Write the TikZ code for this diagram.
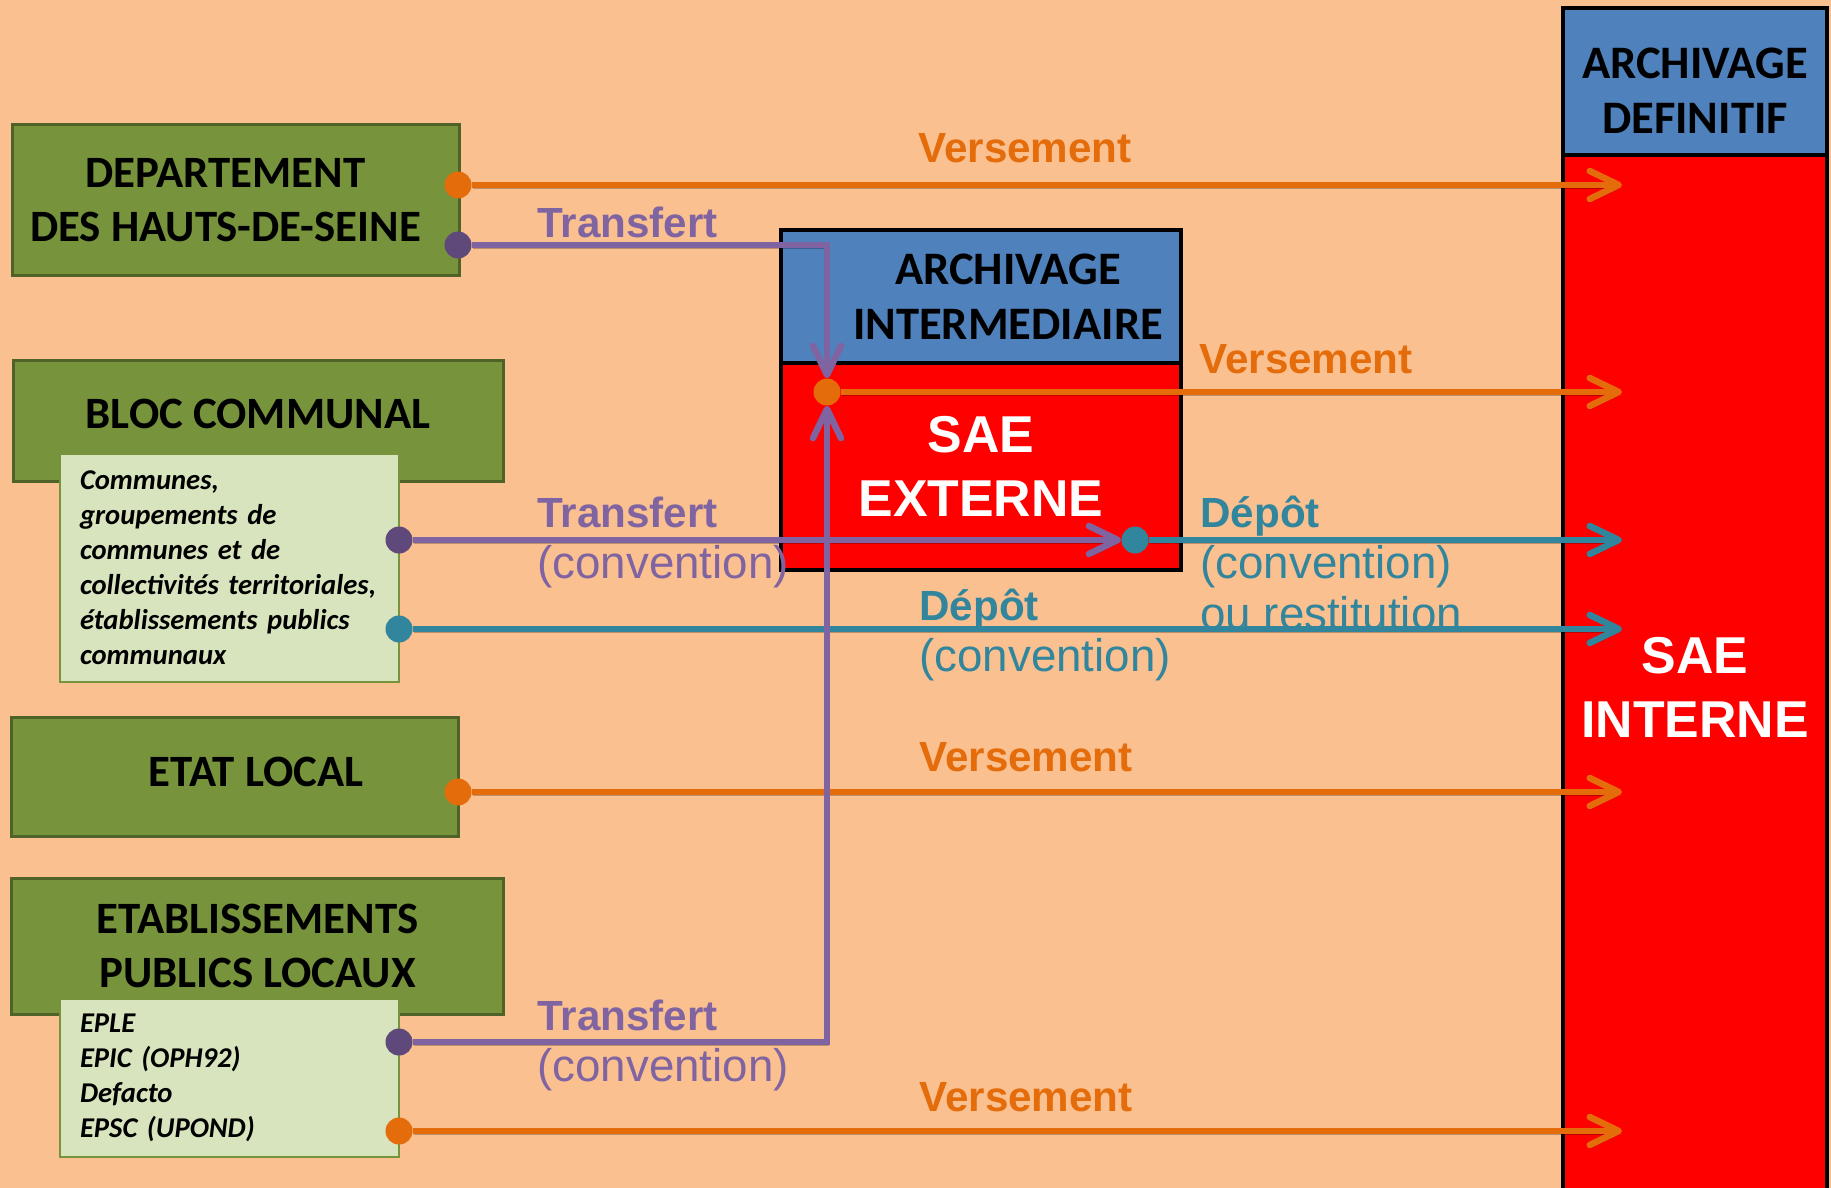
\documentclass[tikz,border=0pt]{standalone}
\usepackage{fontspec}
\setmainfont{Carlito}
\newfontfamily\arialfont{Liberation Sans}
\usepackage{xcolor}
\usetikzlibrary{arrows.meta, positioning}

\definecolor{fond}{HTML}{FAC090}
\definecolor{vert}{HTML}{77933C}
\definecolor{vertfonce}{HTML}{4F6228}
\definecolor{vertclair}{HTML}{D7E4BD}
\definecolor{bleu}{HTML}{4F81BD}
\definecolor{orangel}{HTML}{E46C0A}
\definecolor{violet}{HTML}{8064A2}
\definecolor{violetfonce}{HTML}{5F497A}
\definecolor{bleucanard}{HTML}{31859C}

\begin{document}
\begin{tikzpicture}[
    every node/.style={align=center},
    greentext/.style={font=\bfseries\fontsize{25.5}{30.5}\selectfont},
    headtext/.style={font=\bfseries\fontsize{26.5}{31.5}\selectfont},
    greenbox/.style={draw=vertfonce, line width=0.6mm, fill=vert, greentext},
    listbox/.style={draw=vert, line width=0.3mm, fill=vertclair, text width=5.98cm, align=left, inner xsep=0.4cm, font=\fontsize{16.3}{19.9}\selectfont\bfseries\itshape},
    headbox/.style={draw=black, line width=0.7mm, fill=bleu},
    saebox/.style={draw=black, line width=0.7mm, fill=red, text=white, font=\arialfont\bfseries\fontsize{29.5}{36}\selectfont},
    pastille/.style={circle, inner sep=0pt, minimum size=0.54cm},
    flux/.style={line width=0.13cm, preaction={draw=black, opacity=0.25, transform canvas={shift={(0.02,-0.06)}}}},
    fleche/.style={-{Straight Barb[length=0.58cm, width=0.56cm, round]}},
    lbl/.style={anchor=base west, inner sep=0pt, align=left, font=\arialfont\fontsize{26}{28.9}\selectfont},
    lblb/.style={lbl, font=\arialfont\bfseries\fontsize{24}{28.9}\selectfont}
]

% fond
\fill[fond] (0,0) rectangle (36.62,-23.76);
\useasboundingbox (0,0) rectangle (36.62,-23.76);

% archivage definitif
\node[headbox, minimum width=5.28cm, minimum height=2.94cm,
      label={[yshift=-0.18cm, headtext]center:{ARCHIVAGE\\DEFINITIF}}] (defHead) at (33.90,-1.63) {};
\node[saebox, minimum width=5.28cm, minimum height=21.3cm, below=-0.7mm of defHead] (defSae) {SAE\\INTERNE};

% archivage intermediaire
\node[headbox, minimum width=8.0cm, minimum height=2.66cm,
      label={[xshift=0.54cm, headtext]center:{ARCHIVAGE\\INTERMEDIAIRE}}] (interHead) at (19.62,-5.93) {};
\node[saebox, minimum width=8.0cm, minimum height=4.14cm, below=-0.7mm of interHead] (interSae) {SAE\\EXTERNE};

% producteurs
\node[greenbox, minimum width=8.94cm, minimum height=3.0cm,
      label={[xshift=-0.2cm, greentext]center:{DEPARTEMENT\\DES HAUTS-DE-SEINE}}] (dept) at (4.71,-4.0) {};
\node[greenbox, minimum width=9.8cm, minimum height=2.42cm,
      label={[yshift=0.14cm, greentext]center:BLOC COMMUNAL}] (bloc) at (5.16,-8.41) {};
\node[greenbox, minimum width=8.92cm, minimum height=2.38cm,
      label={[xshift=0.42cm, yshift=0.1cm, greentext]center:ETAT LOCAL}] (etat) at (4.70,-15.53) {};
\node[greenbox, minimum width=9.82cm, minimum height=2.72cm] (etab) at (5.15,-18.92) {ETABLISSEMENTS\\PUBLICS LOCAUX};

\node[listbox, minimum height=4.56cm] (blocList) at (4.59,-11.36) {Communes,\\groupements de\\communes et de\\collectivités territoriales,\\établissements publics\\communaux};
\node[listbox, minimum height=3.16cm] (etabList) at (4.59,-21.56) {EPLE\\EPIC (OPH92)\\Defacto\\EPSC (UPOND)};

% libelles des flux
\node[lblb, text=orangel] (lVersDept) at (18.36,-3.26) {Versement};
\node[lblb, text=violet] (lTransDept) at (10.74,-4.74) {Transfert};
\node[lblb, text=orangel] (lVersInter) at (23.98,-7.47) {Versement};
\node[lbl, text=violet] (lTransBloc) at (10.74,-11.56) {{\bfseries\fontsize{24}{28.9}\selectfont Transfert}\\(convention)};
\node[lbl, text=bleucanard] (lDepInter) at (24.00,-12.59) {{\bfseries\fontsize{24}{28.9}\selectfont Dépôt}\\(convention)\\ou restitution};
\node[lbl, text=bleucanard] (lDepBloc) at (18.38,-13.42) {{\bfseries\fontsize{24}{28.9}\selectfont Dépôt}\\(convention)};
\node[lblb, text=orangel] (lVersEtat) at (18.38,-15.43) {Versement};
\node[lbl, text=violet] (lTransEtab) at (10.74,-21.62) {{\bfseries\fontsize{24}{28.9}\selectfont Transfert}\\(convention)};
\node[lblb, text=orangel] (lVersEtab) at (18.38,-22.23) {Versement};

% points de depart
\node[pastille, fill=orangel] (deptV) at (9.16,-3.70) {};
\node[pastille, fill=violetfonce] (deptT) at (9.16,-4.90) {};
\node[pastille, fill=violetfonce] (blocT) at (7.98,-10.80) {};
\node[pastille, fill=bleucanard] (blocD) at (7.98,-12.58) {};
\node[pastille, fill=orangel] (etatV) at (9.16,-15.84) {};
\node[pastille, fill=violetfonce] (etabT) at (7.98,-20.84) {};
\node[pastille, fill=orangel] (etabV) at (7.98,-22.62) {};
\node[pastille, fill=orangel] (extV) at (16.54,-7.84) {};
\node[pastille, fill=bleucanard] (extD) at (22.70,-10.80) {};
\coordinate (tip) at (32.44,0);

% versements et depots vers le SAE interne
\draw[flux, fleche, orangel] (deptV) -- (deptV -| tip);
\draw[flux, fleche, orangel] (extV) -- (extV -| tip);
\draw[flux, fleche, bleucanard] (extD) -- (extD -| tip);
\draw[flux, fleche, bleucanard] (blocD) -- (blocD -| tip);
\draw[flux, fleche, orangel] (etatV) -- (etatV -| tip);
\draw[flux, fleche, orangel] (etabV) -- (etabV -| tip);

% transferts vers le SAE externe
\draw[flux, fleche, violet] (blocT) -- (extD);
\draw[flux, fleche, violet] (deptT) -| (extV.north);
\draw[flux, fleche, violet] (etabT) -| (extV.south);

\end{tikzpicture}
\end{document}
